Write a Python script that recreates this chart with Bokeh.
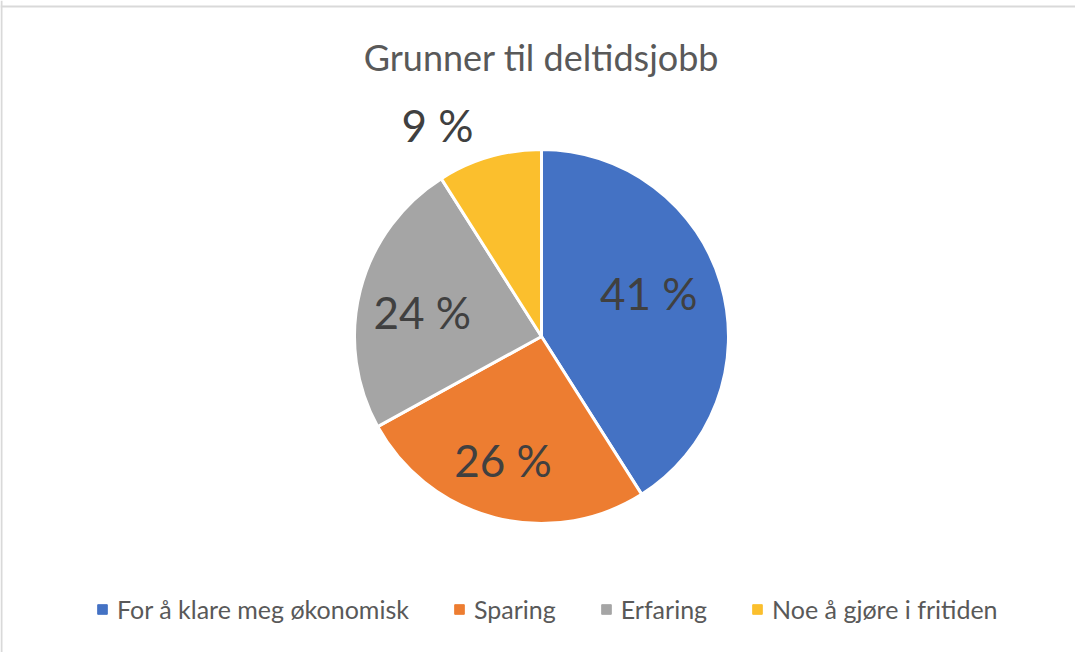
import numpy as np
from bokeh.plotting import figure
from bokeh.models import Range1d, Span, Legend, LegendItem, ColumnDataSource
from bokeh.core.properties import value
from bokeh.embed import file_html
from bokeh.resources import INLINE

# ---- data ----
title_text = "Grunner til deltidsjobb"
categories = ["For å klare meg økonomisk", "Sparing", "Erfaring", "Noe å gjøre i fritiden"]
shares = [41, 26, 24, 9]
labels = ["41 %", "26 %", "24 %", "9 %"]
colors = ["#4472C4", "#ED7D31", "#A5A5A5", "#FBBF2D"]

# ---- layout ----
W, H = 1075, 652
cx, cy, R = 541, 316, 187
label_r_frac = [0.62, 0.69, 0.65, 1.26]
label_shift_deg = [-6, 3, -3, -10]
FONT = "Lato"

p = figure(width=W, height=H, output_backend="svg", toolbar_location=None,
           x_range=Range1d(0, W), y_range=Range1d(0, H), min_border=0,
           outline_line_color=None, background_fill_color="white")
p.axis.visible = False
p.grid.visible = False

# frame lines of the chart box
p.add_layout(Span(location=H - 6, dimension="width", line_color="#d9d9d9", line_width=2))
p.add_layout(Span(location=1, dimension="height", line_color="#d9d9d9", line_width=2))

# legend marker renderers (drawn first, hidden beneath the pie)
items = []
for c, name in zip(colors, categories):
    r = p.scatter(x=[cx], y=[cy], marker="square", fill_color=c, line_color=c, size=6)
    items.append(LegendItem(label=name, renderers=[r], index=0))

vals = np.array(shares, dtype=float)
frac = vals / vals.sum()
cum = np.concatenate([[0.0], np.cumsum(frac)])
start = np.pi / 2 - 2 * np.pi * cum[:-1]
end = np.pi / 2 - 2 * np.pi * cum[1:]

src = ColumnDataSource(dict(start=start, end=end, color=colors, cat=categories))
p.wedge(x=cx, y=cy, radius=R, start_angle="start", end_angle="end", direction="clock",
        fill_color="color", line_color="white", line_width=3, source=src)

# data labels
mid = (cum[:-1] + cum[1:]) / 2 * 360.0 + np.array(label_shift_deg)  # clockwise from top, degrees
rad = np.deg2rad(mid)
lx = cx + np.array(label_r_frac) * R * np.sin(rad)
ly = cy + np.array(label_r_frac) * R * np.cos(rad)
p.text(x=lx, y=ly, text=labels, text_font=value(FONT), text_font_size="44px",
       text_color="#404040", text_align="center", text_baseline="middle")

# title
p.text(x=[cx], y=[596], text=[title_text], text_font=value(FONT), text_font_size="36px",
       text_color="#595959", text_align="center", text_baseline="middle")

legend = Legend(items=items, orientation="horizontal", location=(90, 28),
                glyph_width=24, glyph_height=24, label_standoff=3, spacing=38,
                padding=0, margin=0, border_line_color=None, background_fill_alpha=0,
                label_text_font=FONT, label_text_font_size="25px", label_text_color="#595959")
p.add_layout(legend)

open("out.html", "w").write(file_html(p, INLINE))
